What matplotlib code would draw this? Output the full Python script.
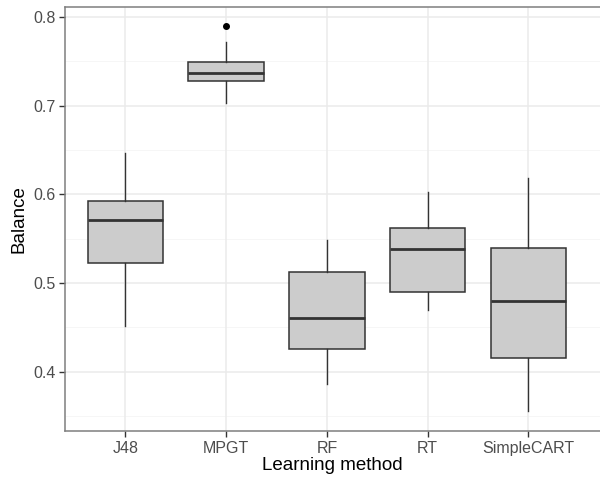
import matplotlib
matplotlib.use('Agg')
import matplotlib.pyplot as plt

plt.rcParams['font.family'] = ['Liberation Sans', 'DejaVu Sans']

# 박스플롯 요약값
methods = ['J48', 'MPGT', 'RF', 'RT', 'SimpleCART']
whislo = [0.452, 0.703, 0.386, 0.470, 0.356]
q1 = [0.523, 0.728, 0.426, 0.490, 0.415]
med = [0.571, 0.737, 0.461, 0.538, 0.480]
q3 = [0.592, 0.749, 0.5125, 0.562, 0.539]
whishi = [0.647, 0.772, 0.548, 0.603, 0.618]
fliers = [[], [0.790], [], [], []]

stats = []
for i in range(len(methods)):
    stats.append(dict(label=methods[i], whislo=whislo[i], q1=q1[i], med=med[i],
                      q3=q3[i], whishi=whishi[i], fliers=fliers[i]))

fig = plt.figure(figsize=(6, 4.82), dpi=100)
ax = fig.add_axes([0.1083, 0.1058, 0.8917, 0.879])

# ggplot theme_bw 느낌
ax.set_facecolor('white')
for y in [0.35, 0.45, 0.55, 0.65, 0.75]:
    ax.axhline(y, color='#F5F5F5', lw=0.6, zorder=0)
for y in [0.4, 0.5, 0.6, 0.7, 0.8]:
    ax.axhline(y, color='#EBEBEB', lw=1.1, zorder=0)
for x in range(1, 6):
    ax.axvline(x, color='#EBEBEB', lw=1.1, zorder=0)

ax.bxp(stats, positions=range(1, 6), widths=0.75, patch_artist=True,
       showcaps=False,
       boxprops=dict(facecolor='#CCCCCC', edgecolor='#333333', linewidth=1.1),
       whiskerprops=dict(color='#333333', linewidth=1.0),
       medianprops=dict(color='#333333', linewidth=2.0),
       flierprops=dict(marker='o', markersize=4, markerfacecolor='black',
                       markeredgecolor='black'))

ax.set_xlim(0.4, 5.71)
ax.set_ylim(0.333, 0.811)
ax.set_yticks([0.4, 0.5, 0.6, 0.7, 0.8])
ax.set_xticks(range(1, 6))
ax.set_xticklabels(methods)

for s in ['left', 'bottom', 'top']:
    ax.spines[s].set_color('#7F7F7F')
    ax.spines[s].set_linewidth(1.1)
ax.spines['right'].set_visible(False)

ax.tick_params(axis='both', colors='#333333', length=4, width=1.0,
               labelsize=11.5, labelcolor='#4D4D4D', pad=3)
ax.set_xlabel('Learning method', fontsize=13.5, color='black', labelpad=1)
ax.set_ylabel('Balance', fontsize=13.5, color='black', labelpad=4)

plt.savefig('out.png', dpi=100)
